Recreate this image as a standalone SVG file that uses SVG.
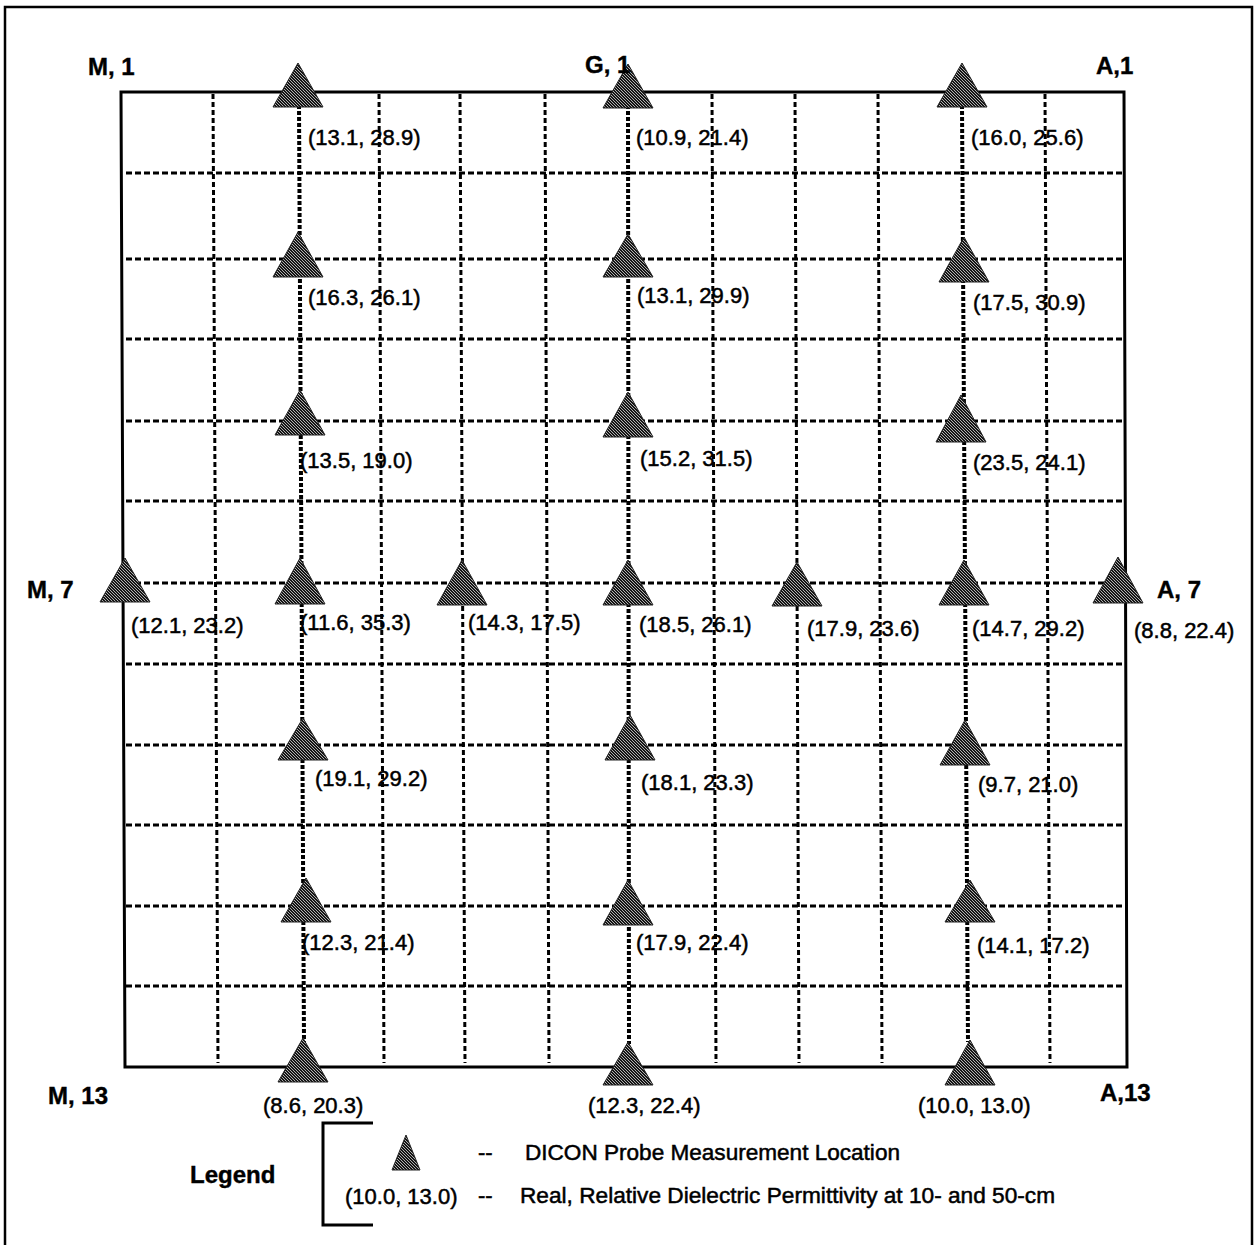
<svg xmlns="http://www.w3.org/2000/svg" width="1257" height="1245" viewBox="0 0 1257 1245">
<defs>
<pattern id="hatch" width="3" height="3" patternUnits="userSpaceOnUse">
<rect width="3" height="3" fill="#151515"/>
<rect x="0" y="0" width="1" height="1" fill="#b0b0b0"/>
<rect x="1" y="1" width="1" height="1" fill="#b0b0b0"/>
<rect x="2" y="2" width="1" height="1" fill="#b0b0b0"/>
</pattern>
<style>
.tri{fill:url(#hatch);stroke:#222;stroke-width:1}
.val{font-family:"Liberation Sans",Arial,sans-serif;font-size:22px;fill:#000;stroke:#000;stroke-width:0.5}
.corner{font-family:"Liberation Sans",Arial,sans-serif;font-size:24px;font-weight:bold;fill:#000;stroke:#000;stroke-width:0.4}
.hd{stroke:#000;stroke-width:3;stroke-dasharray:6 3;fill:none}
.vd{stroke:#000;stroke-width:3;stroke-dasharray:5 3;fill:none}
.vt{stroke:#000;stroke-width:4;stroke-dasharray:4 2;fill:none}
.frame{fill:none;stroke:#000}
</style>
</defs>
<rect x="0" y="0" width="1257" height="1245" fill="#fff"/>
<rect class="frame" x="5" y="7" width="1247" height="1250" stroke-width="2.5"/>

<g id="connectors">
<g id="horizontal-grid">
<line class="hd" x1="126" y1="173" x2="1124" y2="173"/>
<line class="hd" x1="126" y1="259" x2="1124" y2="259"/>
<line class="hd" x1="126" y1="339" x2="1124" y2="339"/>
<line class="hd" x1="126" y1="421" x2="1124" y2="421"/>
<line class="hd" x1="126" y1="501" x2="1124" y2="501"/>
<line class="hd" x1="126" y1="583" x2="1124" y2="583"/>
<line class="hd" x1="126" y1="664" x2="1124" y2="664"/>
<line class="hd" x1="126" y1="745" x2="1124" y2="745"/>
<line class="hd" x1="126" y1="825" x2="1124" y2="825"/>
<line class="hd" x1="126" y1="906" x2="1124" y2="906"/>
<line class="hd" x1="126" y1="986" x2="1124" y2="986"/>
</g>
<g id="vertical-grid">
<line class="vd" x1="213" y1="94" x2="218" y2="1063"/>
<line class="vd" x1="379" y1="94" x2="384" y2="1063"/>
<line class="vd" x1="460" y1="94" x2="465" y2="1063"/>
<line class="vd" x1="545" y1="94" x2="549" y2="1063"/>
<line class="vd" x1="712" y1="94" x2="716" y2="1063"/>
<line class="vd" x1="795" y1="94" x2="799" y2="1063"/>
<line class="vd" x1="878" y1="94" x2="882" y2="1063"/>
<line class="vd" x1="1045" y1="94" x2="1050" y2="1063"/>
</g>
<g id="probe-columns">
<line class="vt" x1="299" y1="105" x2="304" y2="1042"/>
<line class="vt" x1="628" y1="105" x2="629" y2="1044"/>
<line class="vt" x1="962" y1="105" x2="968" y2="1042"/>
</g>
</g>

<g id="site-boundary">
<polygon class="frame" stroke-width="3" points="121,92 1124,92 1127,1067 125,1067"/>
</g>

<g id="probe-L1"><polygon class="tri" points="298,63 273,107 323,107"/><text class="val" x="308" y="145">(13.1, 28.9)</text></g>
<g id="probe-G1"><polygon class="tri" points="628,64 603,108 653,108"/><text class="val" x="636" y="145">(10.9, 21.4)</text></g>
<g id="probe-C1"><polygon class="tri" points="962,63 937,107 987,107"/><text class="val" x="971" y="145">(16.0, 25.6)</text></g>

<g id="probe-L3"><polygon class="tri" points="298,232 273,277 323,277"/><text class="val" x="308" y="305">(16.3, 26.1)</text></g>
<g id="probe-G3"><polygon class="tri" points="628,234 603,277 653,277"/><text class="val" x="637" y="303">(13.1, 29.9)</text></g>
<g id="probe-C3"><polygon class="tri" points="964,237 939,282 989,282"/><text class="val" x="973" y="310">(17.5, 30.9)</text></g>

<g id="probe-L5"><polygon class="tri" points="300,390 275,435 325,435"/><text class="val" x="300" y="468">(13.5, 19.0)</text></g>
<g id="probe-G5"><polygon class="tri" points="628,392 603,437 653,437"/><text class="val" x="640" y="466">(15.2, 31.5)</text></g>
<g id="probe-C5"><polygon class="tri" points="961,395 936,442 986,442"/><text class="val" x="973" y="470">(23.5, 24.1)</text></g>

<g id="probe-M7"><polygon class="tri" points="125,558 100,602 150,602"/><text class="val" x="131" y="633">(12.1, 23.2)</text></g>
<g id="probe-L7"><polygon class="tri" points="300,558 275,604 325,604"/><text class="val" x="300" y="630">(11.6, 35.3)</text></g>
<g id="probe-J7"><polygon class="tri" points="462,560 437,605 487,605"/><text class="val" x="468" y="630">(14.3, 17.5)</text></g>
<g id="probe-G7"><polygon class="tri" points="628,560 603,605 653,605"/><text class="val" x="639" y="632">(18.5, 26.1)</text></g>
<g id="probe-E7"><polygon class="tri" points="797,562 772,606 822,606"/><text class="val" x="807" y="636">(17.9, 23.6)</text></g>
<g id="probe-C7"><polygon class="tri" points="964,560 939,605 989,605"/><text class="val" x="972" y="636">(14.7, 29.2)</text></g>
<g id="probe-A7"><polygon class="tri" points="1118,557 1093,603 1143,603"/><text class="val" x="1134" y="638">(8.8, 22.4)</text></g>

<g id="probe-L9"><polygon class="tri" points="303,718 278,760 328,760"/><text class="val" x="315" y="786">(19.1, 29.2)</text></g>
<g id="probe-G9"><polygon class="tri" points="630,715 605,760 655,760"/><text class="val" x="641" y="790">(18.1, 23.3)</text></g>
<g id="probe-C9"><polygon class="tri" points="965,720 940,765 990,765"/><text class="val" x="978" y="792">(9.7, 21.0)</text></g>

<g id="probe-L11"><polygon class="tri" points="306,878 281,922 331,922"/><text class="val" x="302" y="950">(12.3, 21.4)</text></g>
<g id="probe-G11"><polygon class="tri" points="628,880 603,925 653,925"/><text class="val" x="636" y="950">(17.9, 22.4)</text></g>
<g id="probe-C11"><polygon class="tri" points="970,880 945,922 995,922"/><text class="val" x="977" y="953">(14.1, 17.2)</text></g>

<g id="probe-L13"><polygon class="tri" points="303,1038 278,1082 328,1082"/><text class="val" x="263" y="1113">(8.6, 20.3)</text></g>
<g id="probe-G13"><polygon class="tri" points="628,1042 603,1085 653,1085"/><text class="val" x="588" y="1113">(12.3, 22.4)</text></g>
<g id="probe-C13"><polygon class="tri" points="970,1040 945,1085 995,1085"/><text class="val" x="918" y="1113">(10.0, 13.0)</text></g>

<g id="corner-labels">
<text class="corner" x="88" y="75">M, 1</text>
<text class="corner" x="585" y="73">G, 1</text>
<text class="corner" x="1096" y="74">A,1</text>
<text class="corner" x="27" y="598">M, 7</text>
<text class="corner" x="1157" y="598">A, 7</text>
<text class="corner" x="48" y="1104">M, 13</text>
<text class="corner" x="1100" y="1101">A,13</text>
</g>

<g id="legend">
<text class="corner" x="190" y="1183">Legend</text>
<polyline fill="none" stroke="#000" stroke-width="3" points="373,1123 323,1123 323,1225 373,1225"/>
<polygon class="tri" points="406,1135 392,1170 420,1170"/>
<text class="val" x="478" y="1160">--</text>
<text class="val" x="525" y="1160" textLength="375" lengthAdjust="spacingAndGlyphs">DICON Probe Measurement Location</text>
<text class="val" x="345" y="1204">(10.0, 13.0)</text>
<text class="val" x="478" y="1203">--</text>
<text class="val" x="520" y="1203" textLength="535" lengthAdjust="spacingAndGlyphs">Real, Relative Dielectric Permittivity at 10- and 50-cm</text>
</g>
</svg>
